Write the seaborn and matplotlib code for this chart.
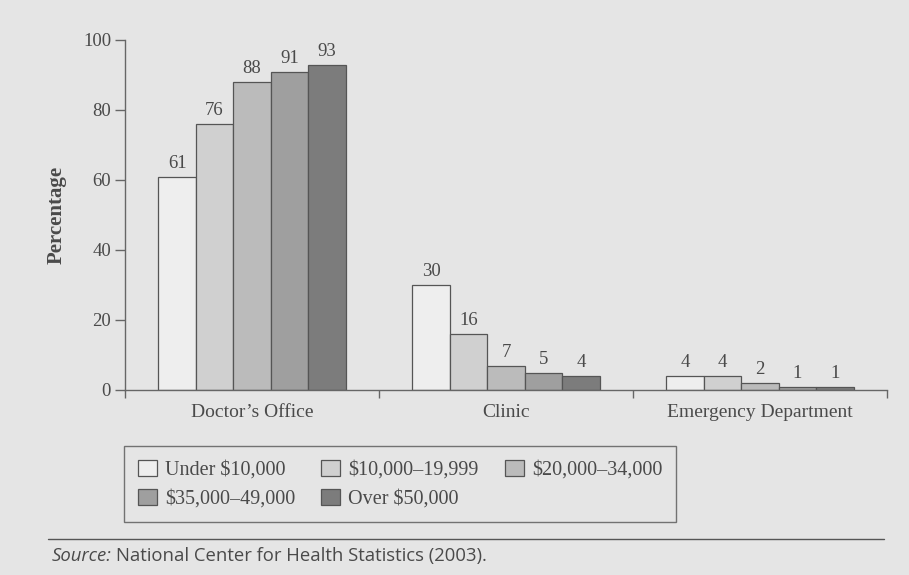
import matplotlib
matplotlib.use("Agg")
import matplotlib.pyplot as plt
from matplotlib.lines import Line2D
import seaborn as sns
import pandas as pd

# Usual source of care by family income
places = ["Doctor\u2019s Office", "Clinic", "Emergency Department"]
income_groups = ["Under $10,000", "$10,000\u201319,999", "$20,000\u201334,000",
                 "$35,000\u201349,000", "Over $50,000"]
doctors_office = [61, 76, 88, 91, 93]
clinic = [30, 16, 7, 5, 4]
emergency_dept = [4, 4, 2, 1, 1]

bar_colors = ["#eeeeee", "#d0d0d0", "#bbbbbb", "#9f9f9f", "#7c7c7c"]
page = "#e5e5e5"
ink = "#4a4a4a"

rows = []
for place, vals in zip(places, [doctors_office, clinic, emergency_dept]):
    for grp, v in zip(income_groups, vals):
        rows.append({"place": place, "income": grp, "pct": v})
df = pd.DataFrame(rows)

sns.set_theme(style="white")
plt.rcParams["font.family"] = ["Liberation Serif", "DejaVu Serif"]

fig = plt.figure(figsize=(9.09, 5.75), dpi=100, facecolor=page)
ax = fig.add_axes([125 / 909, 1 - 390 / 575, (887 - 125) / 909, (390 - 40) / 575])
ax.set_facecolor(page)

sns.barplot(data=df, x="place", y="pct", hue="income", order=places,
            hue_order=income_groups, palette=bar_colors, width=0.737, gap=0,
            edgecolor="#555555", linewidth=0.9, errorbar=None, ax=ax,
            legend=False)

for cont in ax.containers:
    ax.bar_label(cont, fmt="%d", padding=3.5, fontsize=13.5, color=ink)

ax.set_xlim(-0.5, 2.5)
ax.set_ylim(0, 100)
ax.set_yticks(range(0, 101, 20))
ax.set_xlabel("")
ax.set_ylabel("Percentage", fontsize=15, fontweight="bold", color=ink,
              labelpad=12)

for side in ["top", "right"]:
    ax.spines[side].set_visible(False)
for side in ["left", "bottom"]:
    ax.spines[side].set_color("#666666")
    ax.spines[side].set_linewidth(1.0)

ax.tick_params(axis="y", which="major", direction="out", length=7, width=1,
               color="#666666", labelsize=13.5, labelcolor=ink, pad=3, left=True)
ax.tick_params(axis="x", which="major", length=0, labelsize=14,
               labelcolor=ink, pad=10)
ax.set_xticks([-0.5, 0.5, 1.5, 2.5], minor=True)
ax.tick_params(axis="x", which="minor", direction="out", length=6, width=1,
               color="#666666", bottom=True)

handles = [plt.Rectangle((0, 0), 1, 1, facecolor=c, edgecolor="#555555",
                         linewidth=0.9) for c in bar_colors]
order = [0, 3, 1, 4, 2]
leg = fig.legend([handles[i] for i in order], [income_groups[i] for i in order],
                 ncol=3, loc="upper left",
                 bbox_to_anchor=(124 / 909, 1 - 446 / 575),
                 bbox_transform=fig.transFigure, borderaxespad=0,
                 frameon=True, fancybox=False, fontsize=14.5,
                 handlelength=0.95, handleheight=0.85, handletextpad=0.4,
                 columnspacing=1.3, borderpad=0.68, labelspacing=0.45)
leg.get_frame().set_edgecolor("#555555")
leg.get_frame().set_linewidth(1.0)
leg.get_frame().set_facecolor(page)
for t in leg.get_texts():
    t.set_color(ink)

fig.add_artist(Line2D([48 / 909, 884 / 909], [1 - 539 / 575, 1 - 539 / 575],
                      transform=fig.transFigure, color="#555555", linewidth=1.0))
src = fig.text(52 / 909, 1 - 556 / 575, "Source:", fontsize=13.3,
               fontstyle="italic", family=["Open Sans", "DejaVu Sans"],
               color=ink, va="center", ha="left")
fig.canvas.draw()
bb = src.get_window_extent()
fig.text(bb.x1 / 909 + 4 / 909, 1 - 556 / 575,
         "National Center for Health Statistics (2003).", fontsize=13.3,
         family=["Open Sans", "DejaVu Sans"], color=ink, va="center", ha="left")

fig.savefig("out.png", dpi=100, facecolor=page)
